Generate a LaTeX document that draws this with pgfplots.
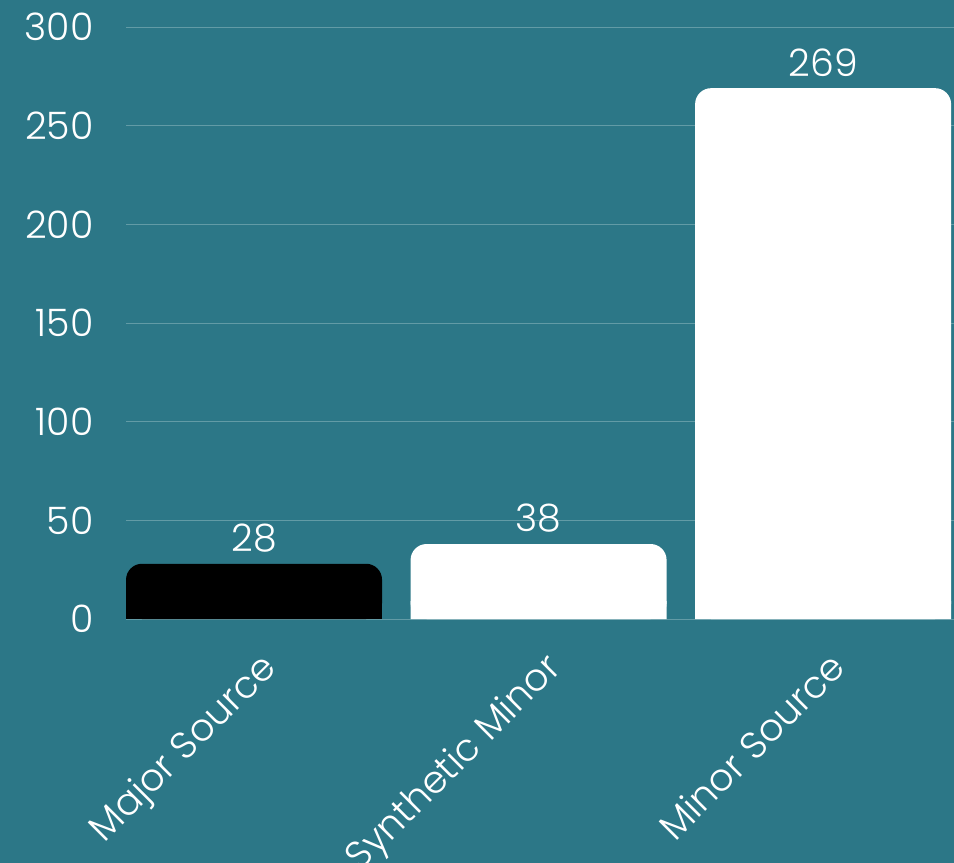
\documentclass[border=0pt]{standalone}
\usepackage{fontspec}
\setmainfont{Poppins}[UprightFont=* Light]
\usepackage{pgfplots}
\pgfplotsset{compat=1.18}
\usetikzlibrary{backgrounds}
\definecolor{bg}{RGB}{44,119,135}
\definecolor{gridc}{RGB}{98,155,166}
\begin{document}
\begin{tikzpicture}
\begin{axis}[
  scale only axis, width=828bp, height=592bp,
  xmin=-0.45, xmax=2.46, ymin=0, ymax=300,
  ytick={0,50,100,150,200,250,300},
  xtick={0,1,2},
  xticklabels={Major Source,Synthetic Minor,Minor Source},
  axis line style={draw=none}, major tick length=0pt,
  ymajorgrids, grid style={gridc, line width=0.8bp},
  tick label style={white, font=\fontsize{38}{44}\selectfont},
  /pgf/number format/assume math mode=true,
  yticklabel style={anchor=east, xshift=-29bp},
  xticklabel style={xshift=4bp, yshift=-26bp, rotate=45, anchor=north east},
  ybar, bar width=256bp, bar shift=0pt,
  clip=false,
]
\coordinate (o) at (rel axis cs:0,0);
\coordinate (t) at (rel axis cs:1,1);
\addplot[fill=black, draw=none, rounded corners=16bp,
  nodes near coords, every node near coord/.style={white, font=\fontsize{38}{44}\selectfont, yshift=8bp}]
  coordinates {(0,28)};
\addplot[fill=white, draw=none, rounded corners=16bp,
  nodes near coords, every node near coord/.style={white, font=\fontsize{38}{44}\selectfont, yshift=8bp}]
  coordinates {(1,38) (2,269)};
\addplot[fill=black, draw=none] coordinates {(0,9)};
\addplot[fill=white, draw=none] coordinates {(1,9) (2,9)};
\end{axis}
\pgfresetboundingbox
\path[use as bounding box] ([xshift=-126bp,yshift=-244bp]o) rectangle ([yshift=27bp]t);
\begin{pgfonlayer}{background}
\fill[bg] ([xshift=-126bp,yshift=-244bp]o) rectangle ([yshift=27bp]t);
\end{pgfonlayer}
\end{tikzpicture}
\end{document}
